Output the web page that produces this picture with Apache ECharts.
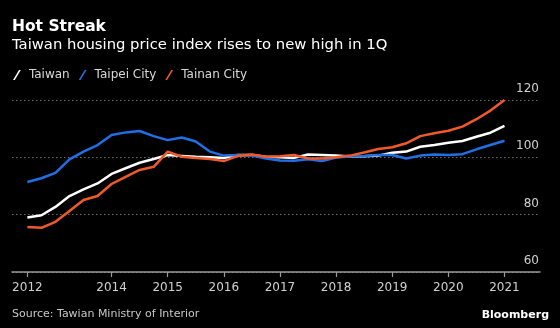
<!DOCTYPE html>
<html>
<head>
<meta charset="utf-8">
<script src="https://cdn.jsdelivr.net/npm/echarts@6/dist/echarts.min.js"></script>
<style>
  html, body { margin: 0; padding: 0; background: #000; }
  #chart { width: 560px; height: 328px; }
</style>
</head>
<body>
<div id="chart"></div>
<script>
// Quarterly index, 2012 Q3 through 2021 Q1
const firstQuarter = { year: 2012, quarter: 3 };
const taiwan = [79.0, 79.8, 82.7, 86.5, 88.8, 90.9, 94.2, 96.2, 98.1, 99.4,
  100.8, 100.5, 100.2, 100.0, 99.8, 100.8, 100.8, 100.2, 100.0, 99.8,
  101.0, 100.8, 100.6, 100.3, 100.4, 100.6, 101.6, 102.0, 103.7, 104.3,
  105.1, 105.7, 107.2, 108.6, 111.0];
const taipei = [91.4, 92.7, 94.6, 99.3, 102.0, 104.3, 107.8, 108.7, 109.2, 107.4,
  106.0, 106.9, 105.5, 102.0, 100.6, 100.8, 100.6, 99.6, 98.9, 98.8,
  99.3, 98.7, 99.9, 100.3, 100.5, 100.8, 100.8, 99.6, 100.6, 101.0,
  100.8, 101.1, 102.8, 104.3, 105.8];
const tainan = [75.7, 75.4, 77.5, 81.3, 85.1, 86.5, 90.7, 93.2, 95.6, 96.7,
  102.0, 100.2, 99.8, 99.4, 98.7, 100.5, 101.0, 100.2, 100.4, 100.8,
  99.6, 99.6, 100.0, 100.6, 101.7, 102.9, 103.5, 104.9, 107.4, 108.4,
  109.3, 110.7, 113.3, 116.3, 120.0];
const seriesNames = ['Taiwan', 'Taipei City', 'Tainan City'];
const seriesColors = ['#ffffff', '#1f6fe6', '#f05a2a'];
const xTickLabels = ['2012', '2014', '2015', '2016', '2017', '2018', '2019', '2020', '2021'];
const xTickValues = [2012.5, 2014, 2015, 2016, 2017, 2018, 2019, 2020, 2021];
const yTicks = [60, 80, 100, 120];

// Decimal-year position of each quarter
function quarterPos(i) {
  return firstQuarter.year + (firstQuarter.quarter - 1) / 4 + i / 4;
}
function toPairs(values) {
  return values.map((v, i) => [quarterPos(i), v]);
}

const FONT = 'DejaVu Sans';
const legendIcon = 'path://M0,10 L1.8,10 L7.8,0 L6,0 Z';

const chart = echarts.init(document.getElementById('chart'), null, { renderer: 'canvas' });
chart.setOption({
  backgroundColor: '#000000',
  animation: false,
  textStyle: { fontFamily: FONT },
  title: [
    { text: 'Hot Streak', left: 12, top: 19, padding: 0,
      textStyle: { color: '#ffffff', fontSize: 15.5, fontWeight: 'bold', fontFamily: FONT } },
    { text: 'Taiwan housing price index rises to new high in 1Q', left: 12, top: 38, padding: 0,
      textStyle: { color: '#ffffff', fontSize: 14.8, fontWeight: 'normal', fontFamily: FONT } },
    { text: 'Source: Tawian Ministry of Interior', left: 12, top: 309, padding: 0,
      textStyle: { color: '#c8c8c8', fontSize: 11, fontWeight: 'normal', fontFamily: FONT } },
    { text: 'Bloomberg', right: 11, top: 310, padding: 0,
      textStyle: { color: '#ffffff', fontSize: 11, fontWeight: 'bold', fontFamily: FONT } }
  ],
  legend: {
    left: 8, top: 64,
    itemWidth: 8, itemHeight: 10, itemGap: 9,
    icon: legendIcon,
    textStyle: { color: '#d8d8d8', fontSize: 12, fontFamily: FONT, padding: [0, 0, 0, 3] },
    data: seriesNames
  },
  grid: { left: 12, right: 20, top: 100, bottom: 56 },
  xAxis: {
    type: 'value',
    min: 2012.226, max: 2021.633,
    axisLine: { show: true, lineStyle: { color: '#9a9a9a', width: 1.5 } },
    axisTick: { show: true, customValues: xTickValues, length: 5, lineStyle: { color: '#9a9a9a', width: 1.2 } },
    axisLabel: {
      customValues: xTickValues,
      formatter: v => xTickLabels[xTickValues.indexOf(v)],
      color: '#d0d0d0', fontSize: 12, fontFamily: FONT, margin: 10
    },
    splitLine: { show: false }
  },
  yAxis: {
    type: 'value',
    position: 'right',
    min: yTicks[0], max: yTicks[yTicks.length - 1], interval: 20,
    axisLine: { show: false },
    axisTick: { show: false },
    axisLabel: {
      inside: true, margin: 1,
      verticalAlign: 'bottom',
      padding: [0, 0, 5, 0],
      color: '#d0d0d0', fontSize: 12, fontFamily: FONT
    },
    splitLine: { show: true, lineStyle: { color: '#6a6a6a', type: [1.5, 2.5], width: 1 } }
  },
  series: [
    { name: seriesNames[0], data: toPairs(taiwan) },
    { name: seriesNames[1], data: toPairs(taipei) },
    { name: seriesNames[2], data: toPairs(tainan) }
  ].map((s, i) => Object.assign(s, {
    type: 'line',
    showSymbol: false,
    color: seriesColors[i],
    lineStyle: { color: seriesColors[i], width: 2.5 },
    z: [2, 3, 4][i]
  }))
});
</script>
</body>
</html>
